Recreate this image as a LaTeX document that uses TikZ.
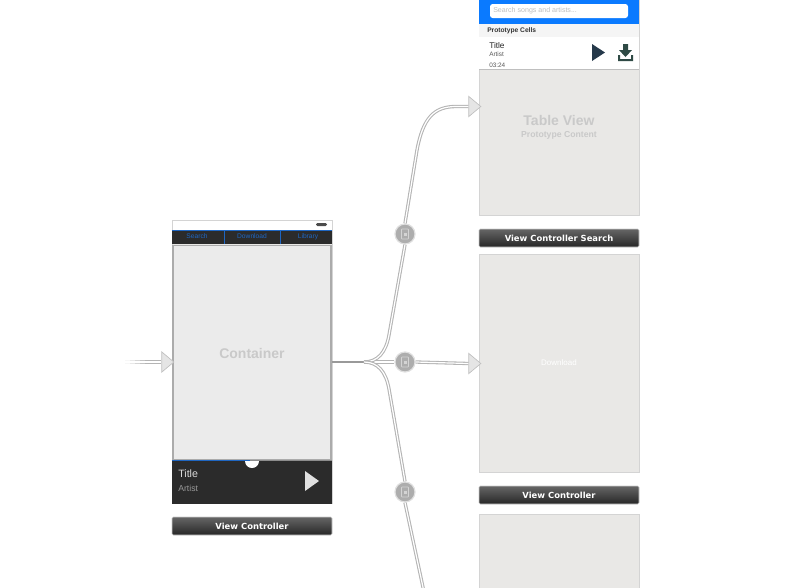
\documentclass[tikz,border=0pt]{standalone}
\usepackage{fontspec}
\setmainfont{Liberation Sans}
\newfontfamily\labelfont{DejaVu Sans}
\usetikzlibrary{shapes.geometric}
\definecolor{segueGray}{HTML}{B4B4B4}
\definecolor{sceneGray}{HTML}{E9E8E6}
\definecolor{ghostGray}{HTML}{C9C9C9}
\definecolor{barDark}{HTML}{2B2B2B}
\definecolor{tabBlue}{HTML}{1F66C1}
\definecolor{searchBlue}{HTML}{0A7AFF}
\definecolor{iconDark}{HTML}{25394A}
\definecolor{iconGreen}{HTML}{2F4A45}
\begin{document}
\begin{tikzpicture}
[x=0.75pt,y=-0.75pt,
  sceneDecorate/.style={shape=rectangle,draw=black!17,fill=sceneGray,line width=0.75pt,
    minimum width=120pt,inner sep=0pt},%
  labelDecorate/.style={shape=rectangle,rounded corners=1pt,top color=black!60,bottom color=black!85,
    draw=black!20,line width=0.4pt,minimum width=120pt,minimum height=13.5pt,inner sep=0pt,
    text=white,font=\labelfont\bfseries\fontsize{6.3}{8}\selectfont},%
  segueLine/.style={draw=segueGray,double=white,double distance=0.9pt,line width=0.8pt},%
  segueTip/.style={shape=isosceles triangle,isosceles triangle apex angle=80,draw=black!25,
    fill=black!10,line width=0.5pt,minimum height=9pt,minimum width=12pt,inner sep=0pt},%
  segueBadge/.style={shape=circle,fill=black!32,draw=black!12,line width=0.9pt,
    minimum size=15pt,inner sep=0pt},%
  tabText/.style={text=tabBlue,font=\fontsize{5}{6}\selectfont},%
  ghostText/.style={text=ghostGray,font=\bfseries\fontsize{10.5}{13}\selectfont},%
  cellText/.style={anchor=west,inner sep=0pt}]
\useasboundingbox (0,0) rectangle (790,587);
\clip (0,0) rectangle (790,587);
%% scenes
\node (mainScene) at (252,361.5) [sceneDecorate,minimum height=212.25pt] {};
\node (tableScene) at (559,107.5) [sceneDecorate,minimum height=161.25pt] {};
\node (downloadScene) at (559,363) [sceneDecorate,minimum height=163.5pt] {};
\node (lastScene) at (559,557) [sceneDecorate,minimum height=64.5pt] {};
%% scene labels
\foreach \nodename/\x/\y/\caption in {
  labelMain/252/526/View Controller, labelSearch/559/238/View Controller Search,
  labelDownload/559/495/View Controller}
{
  \node (\nodename) at (\x,\y) [labelDecorate] {\caption};
}
%% main scene
\fill[white] (172.5,220.5) rectangle (331.5,230);
\fill[black!70,rounded corners=1pt] (316,223) rectangle (327,226);
\node (tabBar) at (252,237) [shape=rectangle,fill=barDark,minimum width=120pt,minimum height=10.5pt,inner sep=0pt] {};
\draw[tabBlue,line width=0.75pt] (172,230.5) -- (332,230.5);
\foreach \x in {224,280}
{
  \draw[tabBlue,line width=0.5pt] (\x,231) -- (\x,244);
}
\foreach \nodename/\x/\caption in {
  tabSearch/197/Search, tabDownload/252/Download, tabLibrary/308/Library}
{
  \node (\nodename) at (\x,236.5) [tabText] {\caption};
}
\node (containerView) at (252,352.5) [shape=rectangle,draw=black!33,fill=black!8,line width=1pt,
  minimum width=118.5pt,minimum height=160.5pt,inner sep=0pt] {};
\node[ghostText] (containerText) at (252,353) {Container};
\node (playerBar) at (252,482) [shape=rectangle,fill=barDark,minimum width=120pt,minimum height=32.25pt,inner sep=0pt] {};
\draw[black!45,line width=0.75pt] (172,460.5) -- (332,460.5);
\draw[tabBlue,line width=0.75pt] (172,460.5) -- (250,460.5);
\fill[white] (245,461) arc[start angle=180,end angle=0,radius=7] -- cycle;
\node[cellText,text=black!15,font=\fontsize{8}{10}\selectfont] (playerTitle) at (178,473.5) {Title};
\node[cellText,text=black!40,font=\fontsize{6.5}{8}\selectfont] (playerArtist) at (178,488.5) {Artist};
\fill[black!12] (305,471) -- (319,481) -- (305,491) -- cycle;
%% table scene
\fill[searchBlue] (479,0) rectangle (639,24);
\node (searchField) at (559,11) [shape=rectangle,rounded corners=2pt,fill=white,minimum width=103.5pt,minimum height=10.5pt,inner sep=0pt] {};
\node[cellText,text=black!25,font=\fontsize{5.3}{6}\selectfont] (searchText) at (493,10.5) {Search songs and artists...};
\fill[black!4] (479,24) rectangle (639,37);
\node[cellText,text=black!80,font=\bfseries\fontsize{5}{6}\selectfont] (headerText) at (487,30.5) {Prototype Cells};
\fill[white] (479,37) rectangle (639,69);
\draw[black!25,line width=0.75pt] (479,69.5) -- (639,69.5);
\node[cellText,text=black!85,font=\fontsize{6.2}{8}\selectfont] (cellTitle) at (489,45.5) {Title};
\node[cellText,text=black!65,font=\fontsize{4.8}{6}\selectfont] (cellArtist) at (489,54.5) {Artist};
\node[cellText,text=black!65,font=\fontsize{4.8}{6}\selectfont] (cellTime) at (489,65) {03:24};
\fill[iconDark] (592,44) -- (605,52.5) -- (592,61) -- cycle;
\fill[iconGreen] (623,44) rectangle (628,50) -- (632,50) -- (625.5,57) -- (619,50) -- (623,50) -- cycle;
\fill[iconGreen] (618,55) rectangle (620,61) (618,59) rectangle (633,61) (631,55) rectangle (633,61);
\node[ghostText] (tableText) at (559,120) {Table View};
\node[ghostText,font=\bfseries\fontsize{6.5}{8}\selectfont] (prototypeText) at (559,135) {Prototype Content};
\node[text=white,font=\fontsize{6}{8}\selectfont] (downloadText) at (559,363) {Download};
%% segue tips
\node (tipEntry) at (166.5,362) [segueTip] {};
\node (tipSearch) at (473.5,106.5) [segueTip] {};
\node (tipDownload) at (473.5,363.5) [segueTip] {};
%% segue badges
\node (badgeSearch) at (405,234) [segueBadge] {};
\node (badgeDownload) at (405,362) [segueBadge] {};
\node (badgeLast) at (405,492) [segueBadge] {};
\coordinate (entryStart) at (125,362);
\coordinate (trunkStart) at (332,362);
\coordinate (trunkEnd) at (364,362);
\coordinate (offPage) at (424,592);
%% segue lines
\draw[segueLine] (entryStart) -- (tipEntry.west);
\foreach \x/\tint in {125/90,130/70,135/45,140/20}
{
  \fill[white,opacity=0.\tint] (\x,358) rectangle ++(5,8);
}
\draw[black!40,line width=2.2pt] (trunkStart) -- (trunkEnd);
\draw[segueLine] (trunkEnd) -- (badgeDownload.west);
\draw[segueLine] (badgeDownload.east) -- (tipDownload.west);
\draw[segueLine] (trunkEnd)
  .. controls (378,362) and (386,352) .. (389,335) -- (badgeSearch.south);
\draw[segueLine] (badgeSearch.north) -- (417,150)
  .. controls (423,118) and (434,106.5) .. (456,106.5) -- (tipSearch.west);
\draw[segueLine] (trunkEnd)
  .. controls (378,362) and (386,372) .. (389,389) -- (badgeLast.north);
\draw[segueLine] (badgeLast.south) -- (offPage);
%% badge icons
\foreach \nodename in {badgeSearch,badgeDownload,badgeLast}
{
  \draw[black!17,line width=0.5pt,rounded corners=0.5pt] ([shift={(-3.5,-5)}]\nodename.center) rectangle ([shift={(3.5,5)}]\nodename.center);
  \fill[black!17] ([shift={(-1.5,-1.5)}]\nodename.center) rectangle ([shift={(1.5,1.5)}]\nodename.center);
}
\end{tikzpicture}
\end{document}
